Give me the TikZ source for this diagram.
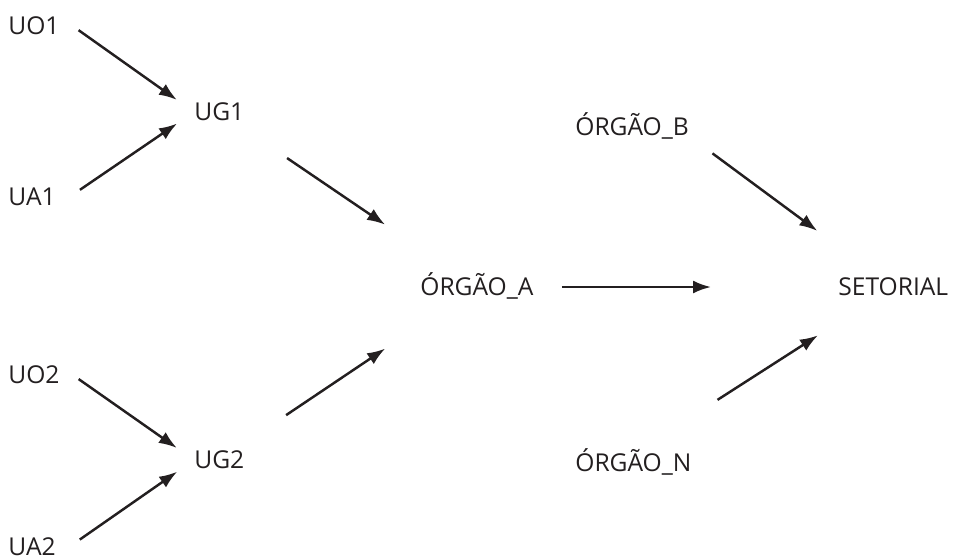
\documentclass[tikz,border=0pt]{standalone}
\usepackage{fontspec}
\setmainfont{Open Sans}
\usepackage{tikz}
\usetikzlibrary{arrows.meta}
\usepackage{xcolor}
\definecolor{quasepreto}{HTML}{231F20}

\begin{document}
\begin{tikzpicture}[x = 0.02cm, y = -0.02cm,
    rotulo/.style = {anchor = west, inner sep = 0pt, text = quasepreto, font = \fontsize{14}{16}\selectfont, text height = 10pt, text depth = 0pt},
    seta/.style = {draw = quasepreto, line width = 1.4pt, -{Latex[length = 3.6mm, width = 2.6mm]}}]
    \useasboundingbox (0,0) rectangle (954,556);
    % Unidades
    \node[rotulo] (uo1) at (8,26) {UO1};
    \node[rotulo] (ua1) at (8,197) {UA1};
    \node[rotulo] (uo2) at (8,375) {UO2};
    \node[rotulo] (ua2) at (8,547) {UA2};
    \node[rotulo] (ug1) at (194,112) {UG1};
    \node[rotulo] (ug2) at (194,460) {UG2};
    % Órgãos
    \node[rotulo] (orgaoA) at (420,287) {ÓRGÃO\_A};
    \node[rotulo] (orgaoB) at (575,127) {ÓRGÃO\_B};
    \node[rotulo] (orgaoN) at (575,463) {ÓRGÃO\_N};
    \node[rotulo] (setorial) at (838,287) {SETORIAL};
    % Setas
    \draw[seta, shorten <= 0.46cm, shorten >= 0.42cm] (uo1.north east) -- (ug1.west);
    \draw[seta, shorten <= 0.58cm, shorten >= 0.41cm] (ua1.south east) -- (ug1.west);
    \draw[seta, shorten <= 0.46cm, shorten >= 0.42cm] (uo2.north east) -- (ug2.west);
    \draw[seta, shorten <= 0.58cm, shorten >= 0.41cm] (ua2.south east) -- (ug2.west);
    \draw[seta, shorten <= 1.64cm, shorten >= 2.22cm] (ug1.center) -- (orgaoA.center);
    \draw[seta, shorten <= 1.61cm, shorten >= 2.21cm] (ug2.center) -- (orgaoA.center);
    \draw[seta, shorten <= 0.56cm, shorten >= 2.54cm] (orgaoA.east) -- (setorial.west);
    \draw[seta, shorten <= 0.58cm, shorten >= 1.89cm] (orgaoB.south east) -- (setorial.center);
    \draw[seta, shorten <= 2.00cm, shorten >= 1.79cm] (orgaoN.north) -- (setorial.center);
\end{tikzpicture}
\end{document}
